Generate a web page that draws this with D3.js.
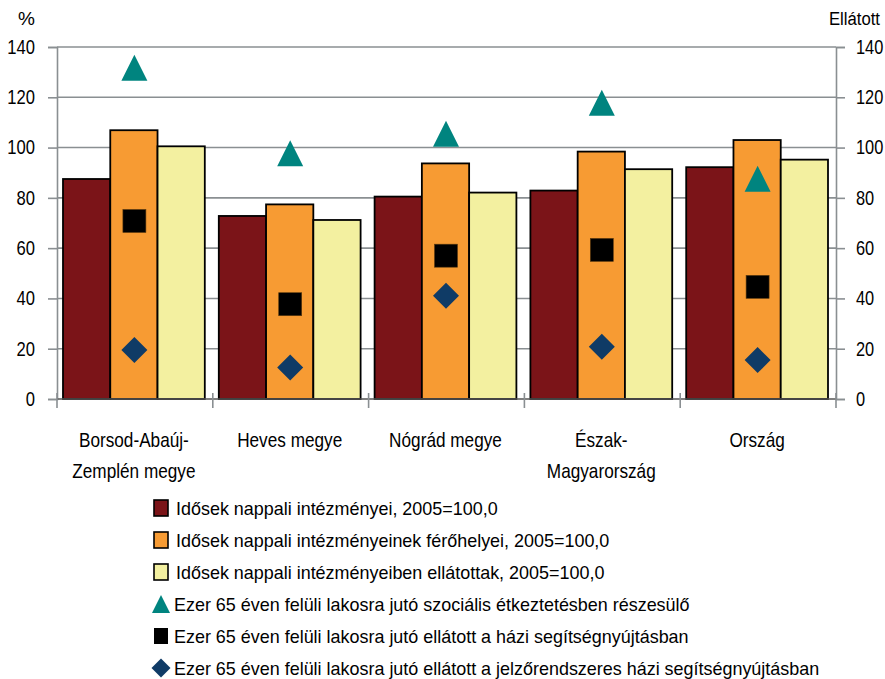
<!DOCTYPE html>
<html><head><meta charset="utf-8">
<script src="https://cdn.jsdelivr.net/npm/d3@7"></script>
<style>
body{margin:0;background:#fff;}
svg text{font-family:"Liberation Sans Narrow","Arial Narrow","Liberation Sans",Arial,sans-serif;fill:#000;}
</style></head>
<body><svg id="c" width="885" height="679"></svg>
<script>
const categories = ["Borsod-Abaúj-Zemplén megye","Heves megye","Nógrád megye","Észak-Magyarország","Ország"];
const categoryLines = [["Borsod-Abaúj-","Zemplén megye"],["Heves megye"],["Nógrád megye"],["Észak-","Magyarország"],["Ország"]];
const intezmenyek = [87.5, 72.8, 80.5, 82.9, 92.2];
const ferohelyek = [106.9, 77.4, 93.7, 98.4, 103.0];
const ellatottak = [100.5, 71.2, 82.1, 91.4, 95.2];
const etkeztetes = [131.7, 97.7, 105.5, 117.8, 87.6];
const haziSegitseg = [70.8, 37.7, 57.0, 59.3, 44.6];
const jelzorendszer = [19.5, 12.5, 41.1, 20.8, 15.5];
const yTicks = [0, 20, 40, 60, 80, 100, 120, 140];
const barSeriesNames = ["Idősek nappali intézményei, 2005=100,0","Idősek nappali intézményeinek férőhelyei, 2005=100,0","Idősek nappali intézményeiben ellátottak,  2005=100,0"];
const markerSeriesNames = ["Ezer 65 éven felüli lakosra jutó szociális étkeztetésben részesülő","Ezer 65 éven felüli lakosra jutó ellátott a házi segítségnyújtásban","Ezer 65 éven felüli lakosra jutó ellátott a jelzőrendszeres házi segítségnyújtásban"];

const barColors = ["#7B1418","#F79B33","#F3F0A0"];
const markerColors = ["#00847F","#000000","#0F3B66"];
const gridColor = "#8A8F92";

const svg = d3.select("#c");
const L = 57, R = 836, T = 47, B = 399;

// horizontally condense text via a scale transform (no narrow font installed)
function condense(sel, f) {
  sel.each(function() {
    const t = d3.select(this);
    const x0 = +(t.attr("x") || 0);
    t.attr("x", x0 / f).attr("transform", `scale(${f},1)`);
  });
}

const x = d3.scaleBand().domain(categories).range([L, R]);
const x1 = d3.scaleBand().domain([0,1,2]).range([6, x.bandwidth() - 8]);
const y = d3.scaleLinear().domain([0, 140]).range([B, T]);
const yR = d3.scaleLinear().domain([0, 140]).range([B, T]);

// gridlines
svg.append("g").selectAll("line").data(yTicks.filter(t => t > 0)).join("line")
  .attr("x1", L).attr("x2", R).attr("y1", d => y(d)).attr("y2", d => y(d))
  .attr("stroke", gridColor).attr("stroke-width", 1.6);

// left axis
const gL = svg.append("g").attr("transform", `translate(${L},0)`)
  .call(d3.axisLeft(y).tickValues(yTicks).tickSize(9).tickPadding(13).tickFormat(d3.format("d")));
gL.select(".domain").attr("stroke", gridColor).attr("stroke-width", 1.6);
gL.selectAll(".tick line").attr("stroke", gridColor).attr("stroke-width", 1.6);
gL.selectAll(".tick text").attr("font-size", 20).attr("font-family", null).call(condense, 0.83);

// right axis
const gR = svg.append("g").attr("transform", `translate(${R},0)`)
  .call(d3.axisRight(yR).tickValues(yTicks).tickSize(9).tickPadding(11).tickFormat(d3.format("d")));
gR.select(".domain").attr("stroke", gridColor).attr("stroke-width", 1.6);
gR.selectAll(".tick line").attr("stroke", gridColor).attr("stroke-width", 1.6);
gR.selectAll(".tick text").attr("font-size", 20).attr("font-family", null).call(condense, 0.82);

// bars
const barData = [intezmenyek, ferohelyek, ellatottak];
const groups = svg.append("g").selectAll("g").data(categories).join("g")
  .attr("transform", d => `translate(${x(d)},0)`);
groups.selectAll("rect").data((d, i) => barData.map((s, j) => ({j, v: s[i]}))).join("rect")
  .attr("x", d => x1(d.j)).attr("width", x1.bandwidth())
  .attr("y", d => y(d.v)).attr("height", d => B - y(d.v))
  .attr("fill", d => barColors[d.j]).attr("stroke", "#000").attr("stroke-width", 1.8);

// bottom axis line and category ticks
svg.append("line").attr("x1", L).attr("x2", R).attr("y1", B).attr("y2", B)
  .attr("stroke", "#555").attr("stroke-width", 1.6);
const bounds = categories.map(c => x(c)).concat([R]);
svg.append("g").selectAll("line").data(bounds).join("line")
  .attr("x1", d => d).attr("x2", d => d).attr("y1", B - 6).attr("y2", B + 9)
  .attr("stroke", gridColor).attr("stroke-width", 1.6);

// category labels
const cx = c => x(c) + x.bandwidth() / 2 - 1;
const labG = svg.append("g");
categories.forEach((c, i) => {
  categoryLines[i].forEach((line, k) => {
    labG.append("text").attr("x", cx(c)).attr("y", 447 + k * 31)
      .attr("text-anchor", "middle").attr("font-size", 20).text(line);
  });
});
labG.selectAll("text").call(condense, 0.86);

// markers
const triPath = (px, py, s) => { const p = d3.path(); p.moveTo(px, py - s); p.lineTo(px + s, py + s); p.lineTo(px - s, py + s); p.closePath(); return p.toString(); };
const diaPath = (px, py, s) => { const p = d3.path(); p.moveTo(px, py - s); p.lineTo(px + s, py); p.lineTo(px, py + s); p.lineTo(px - s, py); p.closePath(); return p.toString(); };

svg.append("g").selectAll("path").data(categories).join("path")
  .attr("d", (c, i) => triPath(cx(c) + 0.5, yR(etkeztetes[i]), 13)).attr("fill", markerColors[0]);
svg.append("g").selectAll("rect").data(categories).join("rect")
  .attr("x", c => cx(c) + 0.5 - 11.5).attr("y", (c, i) => yR(haziSegitseg[i]) - 11.5)
  .attr("width", 23).attr("height", 23).attr("fill", markerColors[1]).attr("stroke", "#5a3a10").attr("stroke-width", 0.6);
svg.append("g").selectAll("path").data(categories).join("path")
  .attr("d", (c, i) => diaPath(cx(c) + 0.5, yR(jelzorendszer[i]), 13)).attr("fill", markerColors[2]);

// axis titles
svg.append("text").attr("x", 18).attr("y", 25).attr("font-size", 19).text("%");
svg.append("text").attr("x", 880).attr("y", 25).attr("font-size", 19).attr("text-anchor", "end").text("Ellátott").call(condense, 0.88);

// legend
const legendY = d3.scaleBand().domain(d3.range(6)).range([492, 684]);
const leg = svg.append("g");
const legText = svg.append("g");
const lx = 161, tx = 176;
barSeriesNames.forEach((n, i) => {
  const cy = legendY(i) + legendY.bandwidth() / 2;
  leg.append("rect").attr("x", lx - 7).attr("y", cy - 8).attr("width", 14).attr("height", 16)
    .attr("fill", barColors[i]).attr("stroke", "#000").attr("stroke-width", 1.6);
  legText.append("text").attr("x", tx).attr("y", cy + 7).attr("font-size", 19).text(n);
});
markerSeriesNames.forEach((n, k) => {
  const i = k + 3;
  const cy = legendY(i) + legendY.bandwidth() / 2;
  if (k === 0) leg.append("path").attr("d", triPath(lx, cy, 9)).attr("fill", markerColors[0]);
  if (k === 1) leg.append("rect").attr("x", lx - 7).attr("y", cy - 8).attr("width", 14).attr("height", 16).attr("fill", markerColors[1]);
  if (k === 2) leg.append("path").attr("d", diaPath(lx, cy, 9.5)).attr("fill", markerColors[2]);
  legText.append("text").attr("x", tx - 2).attr("y", cy + 7).attr("font-size", 19).text(n);
});
legText.selectAll("text").call(condense, 0.945);
</script></body></html>
